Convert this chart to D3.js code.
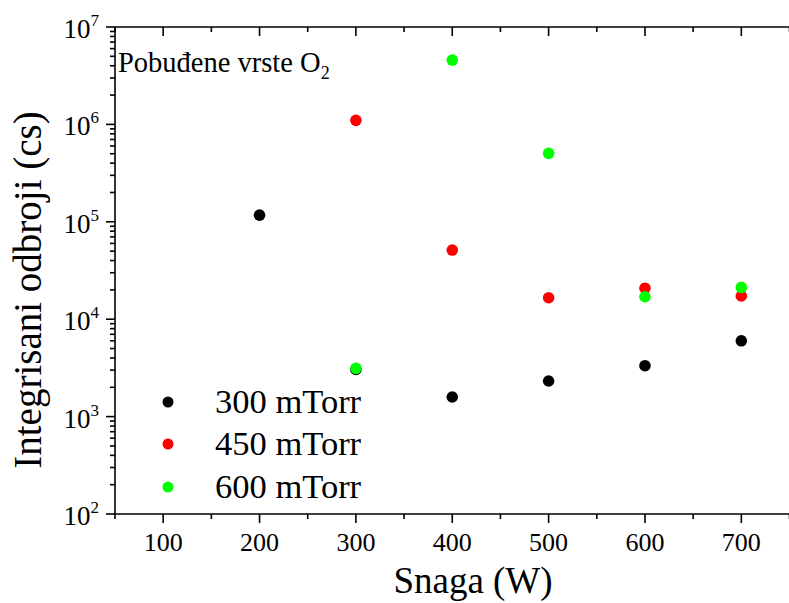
<!DOCTYPE html>
<html>
<head>
<meta charset="utf-8">
<script src="https://cdn.jsdelivr.net/npm/d3@7"></script>
<style>
  html, body { margin: 0; padding: 0; background: #fff; }
  svg { display: block; }
  text { font-family: "Liberation Serif", "Times New Roman", serif; fill: #000; }
</style>
</head>
<body>
<svg id="chart" width="789" height="603"></svg>
<script>
// ---- data ----
const power = [200, 300, 400, 500, 600, 700];
const seriesNames = ["300 mTorr", "450 mTorr", "600 mTorr"];
const seriesColors = ["#000000", "#ff0000", "#00ff00"];
const power300 = [200, 300, 400, 500, 600, 700];
const counts300 = [117000, 3050, 1590, 2320, 3330, 6000];
const power450 = [300, 400, 500, 600, 700];
const counts450 = [1100000, 51300, 16600, 20800, 17300];
const power600 = [300, 400, 500, 600, 700];
const counts600 = [3130, 4580000, 505000, 17000, 21200];
const xTicks = [100, 200, 300, 400, 500, 600, 700];
const xMinorTicks = [50, 150, 250, 350, 450, 550, 650, 750];
const yTickExponents = [2, 3, 4, 5, 6, 7];
const xLabel = "Snaga (W)";
const yLabel = "Integrisani odbroji (cs)";
const annotation = "Pobuđene vrste O";
const annotationSub = "2";

const series = [
  { name: seriesNames[0], color: seriesColors[0], xs: power300, ys: counts300 },
  { name: seriesNames[1], color: seriesColors[1], xs: power450, ys: counts450 },
  { name: seriesNames[2], color: seriesColors[2], xs: power600, ys: counts600 }
];

const svg = d3.select("#chart");
const pL = 115, pR = 789.5, pT = 27, pB = 514;

const x = d3.scaleLinear().domain([50, 750]).range([pL, pR]);
const y = d3.scaleLog().domain([100, 1e7]).range([pB, pT]);

const axisW = 1.6;

// minor y ticks
const yMinor = [];
for (let e = 2; e < 7; e++) for (let m = 2; m <= 9; m++) yMinor.push(m * Math.pow(10, e));

const g = svg.append("g");

// top axis (inward ticks)
g.append("line").attr("x1", pL).attr("x2", 789).attr("y1", pT).attr("y2", pT)
  .attr("stroke", "#000").attr("stroke-width", axisW);
g.selectAll(".tmaj").data(xTicks).join("line")
  .attr("x1", d => x(d)).attr("x2", d => x(d)).attr("y1", pT).attr("y2", pT + 9)
  .attr("stroke", "#000").attr("stroke-width", axisW);
g.selectAll(".tmin").data(xMinorTicks).join("line")
  .attr("x1", d => x(d)).attr("x2", d => x(d)).attr("y1", pT).attr("y2", pT + 5)
  .attr("stroke", "#000").attr("stroke-width", axisW);

// bottom axis (outward ticks)
g.append("line").attr("x1", pL).attr("x2", 789).attr("y1", pB).attr("y2", pB)
  .attr("stroke", "#000").attr("stroke-width", axisW);
g.selectAll(".bmaj").data(xTicks).join("line")
  .attr("x1", d => x(d)).attr("x2", d => x(d)).attr("y1", pB).attr("y2", pB + 9)
  .attr("stroke", "#000").attr("stroke-width", axisW);
g.selectAll(".bmin").data(xMinorTicks).join("line")
  .attr("x1", d => x(d)).attr("x2", d => x(d)).attr("y1", pB).attr("y2", pB + 5)
  .attr("stroke", "#000").attr("stroke-width", axisW);
g.selectAll(".blab").data(xTicks).join("text")
  .attr("x", d => x(d)).attr("y", pB + 37)
  .attr("text-anchor", "middle").attr("font-size", 26).text(d => d);

// left axis (outward ticks)
g.append("line").attr("x1", pL).attr("x2", pL).attr("y1", pT).attr("y2", pB)
  .attr("stroke", "#000").attr("stroke-width", axisW);
g.selectAll(".lmaj").data(yTickExponents).join("line")
  .attr("x1", pL - 9).attr("x2", pL).attr("y1", d => y(Math.pow(10, d))).attr("y2", d => y(Math.pow(10, d)))
  .attr("stroke", "#000").attr("stroke-width", axisW);
g.selectAll(".lmin").data(yMinor).join("line")
  .attr("x1", pL - 5).attr("x2", pL).attr("y1", d => y(d)).attr("y2", d => y(d))
  .attr("stroke", "#000").attr("stroke-width", axisW);
const ylab = g.selectAll(".llab").data(yTickExponents).join("text")
  .attr("x", pL - 16).attr("y", d => y(Math.pow(10, d)) + 11)
  .attr("text-anchor", "end");
ylab.append("tspan").attr("font-size", 27).text("10");
ylab.append("tspan").attr("font-size", 17).attr("dy", -12).text(d => d);

// axis titles
svg.append("text").attr("x", (pL + 789) / 2 + 21).attr("y", 593)
  .attr("text-anchor", "middle").attr("font-size", 37).text(xLabel);
svg.append("text").attr("transform", "translate(41,290) rotate(-90)")
  .attr("text-anchor", "middle").attr("font-size", 39).text(yLabel);

// annotation
const ann = svg.append("text").attr("x", 118).attr("y", 72).attr("font-size", 28.5);
ann.append("tspan").text(annotation);
ann.append("tspan").attr("font-size", 18).attr("dy", 7).text(annotationSub);

// points
series.forEach(s => {
  svg.append("g").selectAll("circle").data(s.xs.map((v, i) => [v, s.ys[i]])).join("circle")
    .attr("cx", d => x(d[0])).attr("cy", d => y(d[1])).attr("r", 5.8)
    .attr("fill", s.color);
});

// legend
const legY = [402, 444, 487];
series.forEach((s, i) => {
  svg.append("circle").attr("cx", 168).attr("cy", legY[i]).attr("r", 5.5).attr("fill", s.color);
  svg.append("text").attr("x", 215).attr("y", legY[i] + 11).attr("font-size", 34.5).text(s.name);
});
</script>
</body>
</html>
